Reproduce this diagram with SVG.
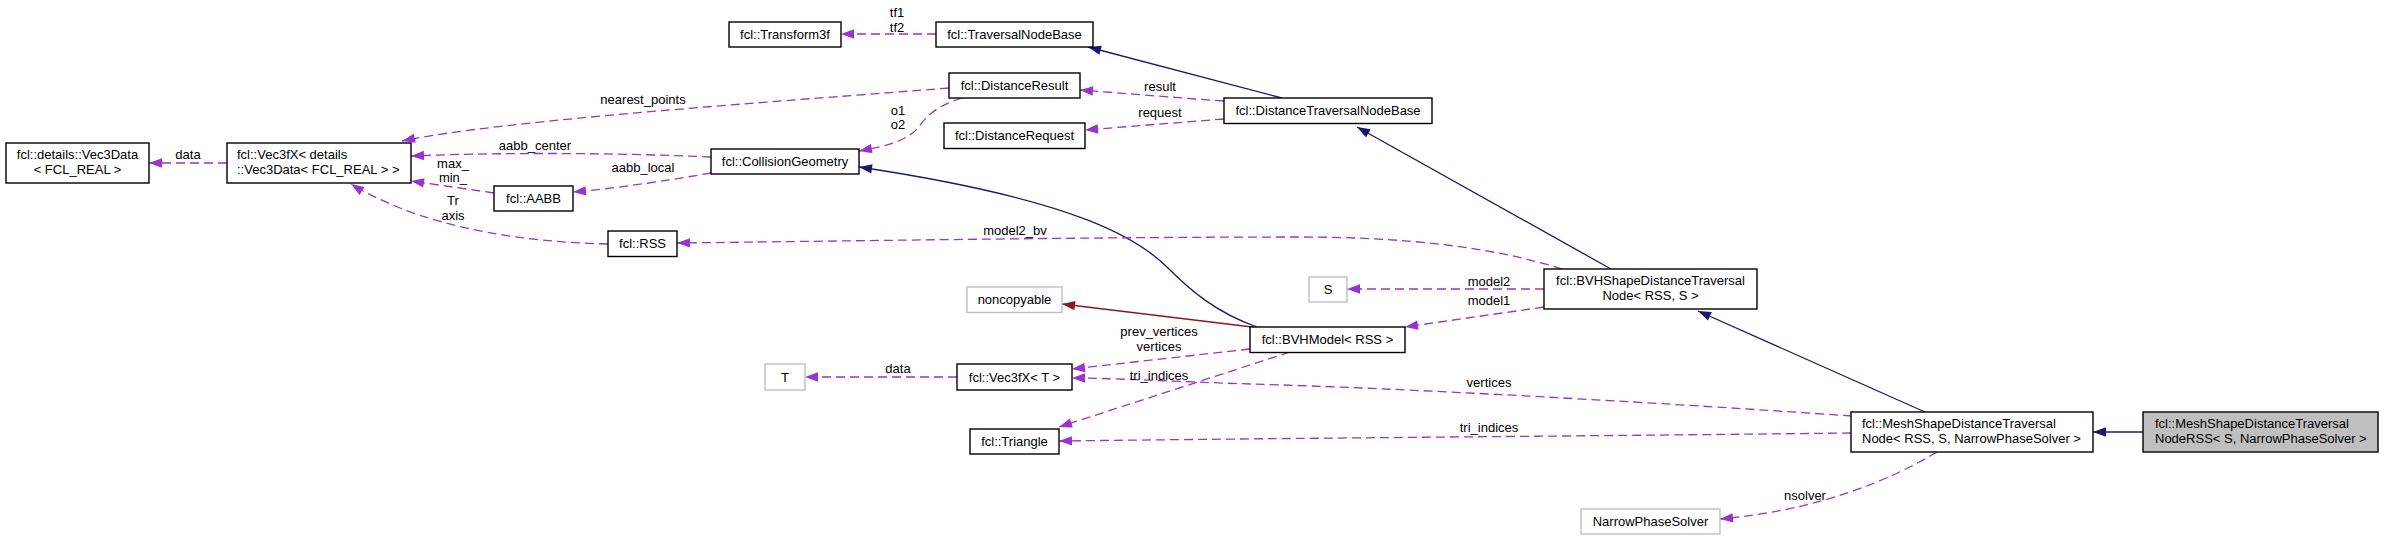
<svg xmlns="http://www.w3.org/2000/svg" width="2384" height="540" viewBox="0 0 2384 540">
<style>
text{font-family:"Liberation Sans",Arial,Helvetica,sans-serif;font-size:13px;fill:#000}
.c{text-anchor:middle}
.box{fill:#fff;stroke:#000;stroke-width:1.4}
.gray{fill:#fff;stroke:#bfbfbf;stroke-width:1.4}
.hl{fill:#bfbfbf;stroke:#000;stroke-width:1.4}
.inh{fill:none;stroke:#191970;stroke-width:1.3;marker-end:url(#an)}
.priv{fill:none;stroke:#8b1a1a;stroke-width:1.3;marker-end:url(#ar)}
.use{fill:none;stroke:#9a32cd;stroke-width:1.3;stroke-dasharray:9,5;marker-end:url(#ap)}
</style>
<defs>
<marker id="an" markerUnits="userSpaceOnUse" markerWidth="14" markerHeight="10" refX="13" refY="5" orient="auto" viewBox="0 0 13 10"><path d="M0,0.3 L13,5 L0,9.7z" fill="#191970"/></marker>
<marker id="ar" markerUnits="userSpaceOnUse" markerWidth="14" markerHeight="10" refX="13" refY="5" orient="auto" viewBox="0 0 13 10"><path d="M0,0.3 L13,5 L0,9.7z" fill="#8b1a1a"/></marker>
<marker id="ap" markerUnits="userSpaceOnUse" markerWidth="14" markerHeight="10" refX="13" refY="5" orient="auto" viewBox="0 0 13 10"><path d="M0,0.3 L13,5 L0,9.7z" fill="#9a32cd"/></marker>
</defs>
<rect width="2384" height="540" fill="#fff"/>
<g id="connectors">
<path class="inh" d="M2143,432 L2093,432"/>
<path class="inh" d="M1925,412 L1698,311"/>
<path class="inh" d="M1611,269 L1357,127"/>
<path class="inh" d="M1282,98 L1088,47"/>
<path class="inh" d="M1257,327 C1215,312 1190,290 1168,268 C1140,240 1080,200 859,167"/>
<path class="priv" d="M1252,327 L1062,304"/>
<path class="use" d="M1224,101 C1180,98 1120,93 1080,90"/>
<path class="use" d="M1224,119 L1085,130"/>
<path class="use" d="M936,34 L841,34"/>
<path class="use" d="M962,98 C935,106 925,118 918,128 C905,142 885,146 859,151"/>
<path class="use" d="M949,88 C800,100 500,120 402,141"/>
<path class="use" d="M711,157 C600,152 480,153 411,156"/>
<path class="use" d="M711,173 C670,180 620,188 573,192"/>
<path class="use" d="M494,193 L411,181"/>
<path class="use" d="M608,244 C520,242 450,228 400,208 C380,200 362,191 351,184"/>
<path class="use" d="M227,163 L149,163"/>
<path class="use" d="M1562,269 C1490,246 1400,237 1300,237 C1100,237 850,241 677,243"/>
<path class="use" d="M1544,289 L1347,289"/>
<path class="use" d="M1544,307 L1405,327"/>
<path class="use" d="M1250,349 L1072,369"/>
<path class="use" d="M1290,352 L1059,427"/>
<path class="use" d="M957,377 L805,377"/>
<path class="use" d="M1852,416 C1650,402 1400,388 1250,384 C1160,381 1110,378 1072,378"/>
<path class="use" d="M1851,433 C1600,436 1300,438 1059,441"/>
<path class="use" d="M1937,452 C1890,480 1820,510 1720,519"/>
<text class="c" x="188" y="159">data</text>
<text class="c" x="643" y="103.5">nearest_points</text>
<text class="c" x="535" y="149.5">aabb_center</text>
<text class="c" x="643" y="172">aabb_local</text>
<text class="c" x="453" y="168">max_</text>
<text class="c" x="453" y="182">min_</text>
<text class="c" x="453" y="204.5">Tr</text>
<text class="c" x="453" y="219.5">axis</text>
<text class="c" x="897" y="17">tf1</text>
<text class="c" x="897" y="31.5">tf2</text>
<text class="c" x="898" y="114.5">o1</text>
<text class="c" x="898" y="129">o2</text>
<text class="c" x="1160" y="91">result</text>
<text class="c" x="1160" y="117">request</text>
<text class="c" x="1015" y="235">model2_bv</text>
<text class="c" x="1489" y="285.5">model2</text>
<text class="c" x="1489" y="305">model1</text>
<text class="c" x="1159" y="336">prev_vertices</text>
<text class="c" x="1159" y="351">vertices</text>
<text class="c" x="1159" y="380">tri_indices</text>
<text class="c" x="898" y="373">data</text>
<text class="c" x="1489" y="387">vertices</text>
<text class="c" x="1489" y="432">tri_indices</text>
<text class="c" x="1805" y="500">nsolver</text>
</g>
<g id="n_msdtnrss"><rect class="hl" x="2143" y="412" width="235" height="40"/><text x="2155" y="428">fcl::MeshShapeDistanceTraversal</text><text x="2155" y="443">NodeRSS&lt; S, NarrowPhaseSolver &gt;</text></g>
<g id="n_msdtn"><rect class="box" x="1851" y="412" width="242" height="40"/><text x="1862" y="428">fcl::MeshShapeDistanceTraversal</text><text x="1862" y="443">Node&lt; RSS, S, NarrowPhaseSolver &gt;</text></g>
<g id="n_bvhsdtn"><rect class="box" x="1544" y="269" width="213" height="40"/><text class="c" x="1650.5" y="285">fcl::BVHShapeDistanceTraversal</text><text class="c" x="1650.5" y="300">Node&lt; RSS, S &gt;</text></g>
<g id="n_dtnb"><rect class="box" x="1224" y="98" width="208" height="25.5"/><text class="c" x="1328" y="115">fcl::DistanceTraversalNodeBase</text></g>
<g id="n_tnb"><rect class="box" x="936" y="22" width="157" height="25"/><text class="c" x="1014.5" y="39">fcl::TraversalNodeBase</text></g>
<g id="n_transform3f"><rect class="box" x="729" y="22" width="112" height="25"/><text class="c" x="785" y="39">fcl::Transform3f</text></g>
<g id="n_distanceresult"><rect class="box" x="949" y="73" width="131" height="25"/><text class="c" x="1014.5" y="90">fcl::DistanceResult</text></g>
<g id="n_distancerequest"><rect class="box" x="944" y="123" width="141" height="25.5"/><text class="c" x="1014.5" y="140">fcl::DistanceRequest</text></g>
<g id="n_collisiongeometry"><rect class="box" x="711" y="149" width="148" height="25"/><text class="c" x="785" y="166">fcl::CollisionGeometry</text></g>
<g id="n_vec3fx_details"><rect class="box" x="227" y="143" width="184" height="40"/><text x="237" y="159">fcl::Vec3fX&lt; details</text><text x="237" y="174">::Vec3Data&lt; FCL_REAL &gt; &gt;</text></g>
<g id="n_vec3data"><rect class="box" x="6" y="143" width="143" height="40"/><text class="c" x="77.5" y="159">fcl::details::Vec3Data</text><text class="c" x="77.5" y="174">&lt; FCL_REAL &gt;</text></g>
<g id="n_aabb"><rect class="box" x="494" y="186" width="79" height="25"/><text class="c" x="533.5" y="203">fcl::AABB</text></g>
<g id="n_rss"><rect class="box" x="608" y="231" width="69" height="25.5"/><text class="c" x="642.5" y="248">fcl::RSS</text></g>
<g id="n_s"><rect class="gray" x="1309" y="277" width="38" height="25"/><text class="c" x="1328" y="294">S</text></g>
<g id="n_noncopyable"><rect class="gray" x="967" y="287" width="95" height="25.5"/><text class="c" x="1014.5" y="304">noncopyable</text></g>
<g id="n_bvhmodel"><rect class="box" x="1250" y="327" width="155" height="25.5"/><text class="c" x="1327.5" y="344">fcl::BVHModel&lt; RSS &gt;</text></g>
<g id="n_t"><rect class="gray" x="765" y="364" width="40" height="26"/><text class="c" x="785" y="381.5">T</text></g>
<g id="n_vec3fx_t"><rect class="box" x="957" y="364" width="115" height="26"/><text class="c" x="1014.5" y="381.5">fcl::Vec3fX&lt; T &gt;</text></g>
<g id="n_triangle"><rect class="box" x="970" y="429" width="89" height="25"/><text class="c" x="1014.5" y="446">fcl::Triangle</text></g>
<g id="n_nps"><rect class="gray" x="1581" y="509" width="139" height="25"/><text class="c" x="1650.5" y="526">NarrowPhaseSolver</text></g>
</svg>
